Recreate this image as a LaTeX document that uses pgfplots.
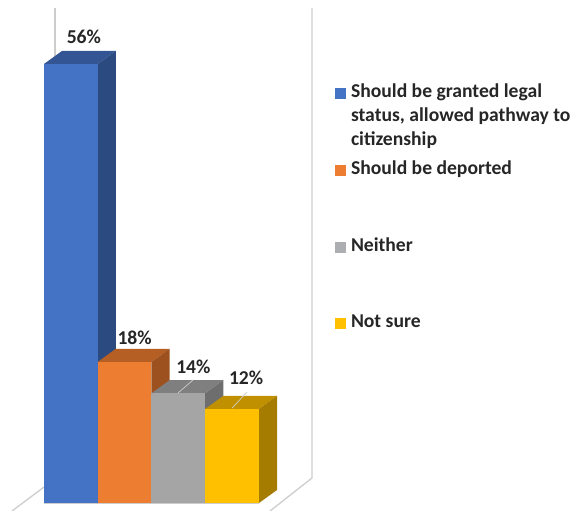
\documentclass[border=0pt]{standalone}
\usepackage{fontspec}
\setmainfont{Carlito}
\usepackage{pgfplots}
\pgfplotsset{compat=1.18}
\definecolor{lblue}{HTML}{4472C4}\definecolor{lblueT}{HTML}{335593}\definecolor{lblueS}{HTML}{2A4A80}
\definecolor{lor}{HTML}{ED7D31}\definecolor{lorT}{HTML}{B65F25}\definecolor{lorS}{HTML}{9C511E}
\definecolor{lgr}{HTML}{A5A5A5}\definecolor{lgrT}{HTML}{7F7F7F}\definecolor{lgrS}{HTML}{6E6E6E}
\definecolor{lye}{HTML}{FFC000}\definecolor{lyeT}{HTML}{C09000}\definecolor{lyeS}{HTML}{A67C00}
\definecolor{lleg}{HTML}{ADAEB2}\definecolor{wall}{HTML}{CDCDCD}\definecolor{txt}{HTML}{262626}
\pgfplotsset{
  face/.style={draw=none,forget plot,mark=none},
  wallline/.style={draw=wall,line width=1.3bp,forget plot,mark=none},
  front/.style={ybar,bar width=1,bar shift=0pt,draw=none,fill=#1,forget plot,
    nodes near coords={\pgfmathprintnumber[assume math mode=true]{\pgfplotspointmeta}\%},
    nodes near coords style={font=\fontsize{19.7}{22}\selectfont\bfseries,text=txt,anchor=center}},
  legsq/.style={legend image code/.code={\fill[##1,draw=none] (0bp,-1.3bp) rectangle (11bp,9.7bp);}},
}
\newcommand{\lt}[2]{\parbox[t][#1][t]{226bp}{\raggedright\fontsize{19.7}{24}\selectfont\bfseries #2}}
\begin{document}
\begin{tikzpicture}
\path[use as bounding box] (0,0) rectangle (576bp,511bp);
\begin{axis}[
  at={(0,0)},anchor=south west,scale only axis,width=576bp,height=511bp,
  xmin=-1.3186,xmax=9.398,ymin=-1.02,ymax=64.16,hide axis,clip=false,
  legend style={at={(335/576,1-84/511)},anchor=north west,draw=none,fill=none,inner sep=0pt,outer sep=0pt,
    row sep=0pt,text=txt,nodes={inner sep=0pt,outer sep=0pt,text depth=,text height=,anchor=base west}},
]
% walls and floor
\addplot[wallline] coordinates {(-0.295,63.14) (-0.295,5)};
\addplot[wallline] coordinates {(4.486,63.14) (4.486,3.19) (3.705,-1.02)};
\addplot[wallline] coordinates {(-0.5,2.04) (-1.095,-1.02)};
\addplot[wallline] coordinates {(-0.5,0) (3.5,0)};
% blue
\addplot[face,fill=lblueT] coordinates {(-0.5,56) (-0.165,57.66) (0.835,57.66) (0.5,56)} -- cycle;
\addplot[face,fill=lblueS] coordinates {(0.5,0) (0.835,1.66) (0.835,57.66) (0.5,56)} -- cycle;
\addplot[front=lblue,every node near coord/.append style={xshift=13bp,yshift=27bp}] coordinates {(0,56)};
% orange
\addplot[face,fill=lorT] coordinates {(0.5,18) (0.835,19.66) (1.835,19.66) (1.5,18)} -- cycle;
\addplot[face,fill=lorS] coordinates {(1.5,0) (1.835,1.66) (1.835,19.66) (1.5,18)} -- cycle;
\addplot[front=lor,every node near coord/.append style={xshift=10bp,yshift=24.5bp}] coordinates {(1,18)};
% grey
\addplot[face,fill=lgrT] coordinates {(1.5,14) (1.835,15.66) (2.835,15.66) (2.5,14)} -- cycle;
\addplot[face,fill=lgrS] coordinates {(2.5,0) (2.835,1.66) (2.835,15.66) (2.5,14)} -- cycle;
\addplot[front=lgr,every node near coord/.append style={xshift=15bp,yshift=26bp}] coordinates {(2,14)};
% yellow
\addplot[face,fill=lyeT] coordinates {(2.5,12) (2.835,13.66) (3.835,13.66) (3.5,12)} -- cycle;
\addplot[face,fill=lyeS] coordinates {(3.5,0) (3.835,1.66) (3.835,13.66) (3.5,12)} -- cycle;
\addplot[front=lye,every node near coord/.append style={xshift=14bp,yshift=31bp}] coordinates {(3,12)};
% leader lines
\addplot[draw=wall,line width=0.7bp,forget plot,mark=none] coordinates {(1.993,14.03) (2.272,15.69)};
\addplot[draw=wall,line width=0.7bp,forget plot,mark=none] coordinates {(2.998,12.1) (3.277,14.16)};
% legend
\addlegendimage{legsq,fill=lblue}
\addlegendentry{\hspace{5bp}\lt{77bp}{Should be granted legal\\status, allowed pathway to\\citizenship}}
\addlegendimage{legsq,fill=lor}
\addlegendentry{\hspace{5bp}\lt{77bp}{Should be deported}}
\addlegendimage{legsq,fill=lleg}
\addlegendentry{\hspace{5bp}\lt{77bp}{Neither}}
\addlegendimage{legsq,fill=lye}
\addlegendentry{\hspace{5bp}\lt{20bp}{Not sure}}
\end{axis}
\end{tikzpicture}
\end{document}
